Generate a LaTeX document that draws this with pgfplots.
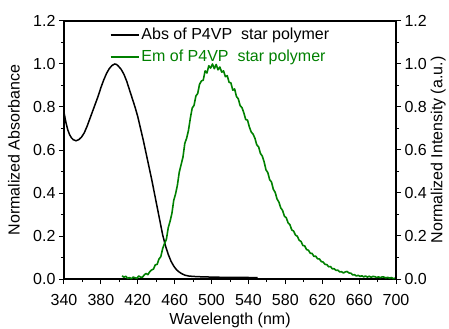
\documentclass[border=0pt]{standalone}
\usepackage{pgfplots}
\pgfplotsset{compat=1.18}
\usepackage{fontspec}
\setmainfont{Liberation Sans}
\definecolor{emgreen}{RGB}{0,128,0}

\pgfplotstableread{
x y
340 0.775
342 0.73
344 0.695
346 0.672
348 0.657
350 0.648
353 0.643
356 0.648
359 0.66
362 0.68
365 0.71
368 0.745
371 0.78
374 0.815
377 0.85
380 0.89
383 0.925
386 0.955
389 0.978
392 0.993
395 1.0
397 0.998
399 0.99
402 0.975
405 0.952
408 0.92
411 0.88
414 0.84
417 0.80
420 0.755
423 0.70
426 0.645
429 0.585
432 0.525
435 0.465
438 0.40
441 0.335
444 0.27
447 0.205
450 0.155
453 0.115
456 0.083
459 0.06
462 0.043
465 0.032
468 0.024
471 0.018
475 0.014
480 0.012
490 0.010
500 0.009
510 0.008
520 0.008
530 0.007
540 0.007
550 0.006
}\absdata

\pgfplotstableread{
x y
403 0.015
405 0.008
407 0.013
409 0.003
411 0.007
413 0.001
415 0.009
417 0.006
419 0.003
421 0.014
423 0.009
425 0.008
427 0.019
429 0.026
431 0.020
433 0.034
435 0.042
437 0.046
439 0.066
441 0.068
443 0.093
445 0.104
447 0.142
449 0.165
451 0.184
453 0.238
455 0.268
457 0.305
459 0.366
461 0.396
463 0.437
465 0.497
467 0.532
469 0.567
471 0.631
473 0.655
475 0.692
477 0.748
479 0.795
481 0.808
483 0.851
485 0.863
487 0.906
489 0.921
491 0.925
493 0.968
495 0.958
497 0.992
499 0.981
501 1.0
503 0.978
505 0.998
507 0.973
509 0.986
511 0.962
513 0.968
515 0.941
517 0.946
519 0.915
521 0.912
523 0.878
525 0.884
527 0.849
529 0.838
531 0.806
533 0.797
535 0.773
537 0.742
539 0.739
541 0.707
543 0.684
545 0.674
547 0.655
549 0.624
551 0.615
553 0.584
555 0.572
557 0.545
559 0.508
561 0.495
563 0.462
565 0.451
567 0.417
569 0.403
571 0.372
573 0.358
575 0.331
577 0.319
579 0.292
581 0.285
583 0.261
585 0.252
587 0.228
589 0.223
591 0.204
593 0.199
595 0.180
597 0.175
599 0.156
601 0.154
603 0.137
605 0.134
607 0.120
609 0.119
611 0.105
613 0.106
615 0.094
617 0.093
619 0.081
621 0.079
623 0.068
625 0.067
627 0.057
629 0.058
631 0.047
633 0.048
635 0.040
637 0.041
639 0.033
641 0.034
643 0.028
645 0.033
647 0.035
649 0.028
651 0.027
653 0.019
655 0.020
657 0.014
659 0.017
661 0.012
663 0.015
665 0.010
667 0.014
669 0.009
671 0.013
673 0.008
675 0.012
677 0.011
679 0.007
681 0.010
683 0.006
685 0.010
687 0.009
689 0.005
691 0.008
693 0.004
695 0.007
697 0.002
699 0.004
700 0.003
}\emdata

\begin{document}
\begin{tikzpicture}[font=\fontsize{16bp}{19bp}\selectfont]
\path[use as bounding box] (-64bp,-50bp) rectangle (385bp,279bp);
\pgfplotsset{
  common/.style={
    scale only axis, width=332bp, height=258bp,
    xmin=340, xmax=700, ymin=0, ymax=1.2,
    ytick={0,0.2,0.4,0.6,0.8,1.0,1.2},
    minor y tick num=1,
    tick align=outside,
    major tick length=5bp, minor tick length=3bp,
    axis line style={line width=1.2bp},
    every tick/.style={line width=1bp, black},
    /pgf/number format/assume math mode=true,
    yticklabel style={/pgf/number format/.cd, fixed, fixed zerofill, precision=1},
  }
}
\begin{axis}[common,
  xtick={340,380,...,700}, minor x tick num=1,
  xtick pos=lower, ytick pos=left,
  xticklabel shift=7bp,
  xlabel={Wavelength (nm)}, ylabel={Normalized Absorbance},
  xlabel style={at={(axis description cs:0.5,-0.159)}, anchor=center},
  ylabel style={at={(axis description cs:-0.151,0.5)}, anchor=center},
  legend style={draw=none, fill=none, inner sep=0pt,
    at={(axis description cs:0.137,1.0)}, anchor=north west, yshift=-2.5bp,
    nodes={inner ysep=4.5bp, inner xsep=2bp},
    /tikz/every even column/.append style={column sep=4bp}},
  legend cell align=left,
  legend image code/.code={\draw[#1, line width=1.8bp] (0bp,0bp) -- (28bp,0bp);},
]
\addplot[black, line width=1.5bp] table[x=x,y=y] {\absdata};
\addlegendentry{Abs of P4VP\ \ star polymer}
\addplot[emgreen, line width=1.6bp, line join=round] table[x=x,y=y] {\emdata};
\addlegendentry{\textcolor{emgreen}{Em of P4VP\ \ star polymer}}
\end{axis}
\begin{axis}[common,
  axis x line=none, axis y line*=right,
  ylabel={Normalized Intensity (a.u.)},
  ylabel style={at={(axis description cs:1.127,0.5)}, anchor=center},
]
\end{axis}
\end{tikzpicture}
\end{document}
